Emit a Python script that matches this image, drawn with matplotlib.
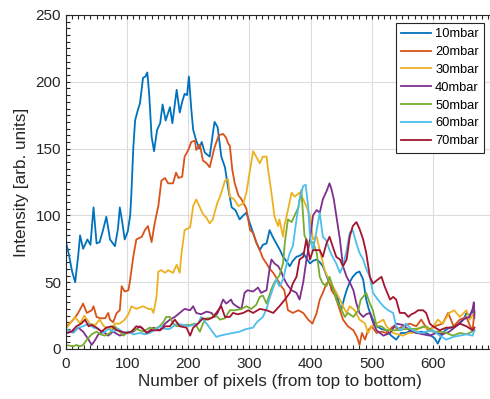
import matplotlib
matplotlib.use("Agg")
import matplotlib.pyplot as plt
from matplotlib.ticker import MultipleLocator

plt.rcParams["font.family"] = ["Liberation Sans", "DejaVu Sans"]

# (pixel index, intensity)
s10 = [(0, 80), (5, 70), (10, 58), (15, 50), (20, 70), (23, 85), (28, 75), (35, 82), (40, 78), (45, 106),
       (50, 79), (55, 80), (60, 88), (66, 99), (72, 82), (80, 77), (85, 90), (88, 106), (92, 95), (96, 82),
       (101, 88), (105, 100), (107, 117), (110, 150), (113, 171), (117, 178), (121, 184), (126, 203), (130, 204),
       (133, 207), (136, 191), (140, 159), (144, 148), (149, 164), (154, 169), (158, 183), (163, 171), (170, 181),
       (174, 169), (181, 194), (186, 177), (190, 185), (194, 191), (198, 190), (201, 204), (205, 179), (208, 164),
       (213, 156), (218, 150), (222, 155), (227, 147), (235, 144), (241, 164), (243, 170), (248, 166), (254, 144),
       (260, 136), (265, 121), (271, 106), (277, 104), (284, 97), (290, 100), (295, 102), (300, 95), (306, 87),
       (311, 80), (317, 74), (322, 78), (328, 79), (333, 89), (338, 84), (344, 79), (350, 74), (355, 69), (360, 66),
       (366, 62), (371, 66), (377, 69), (383, 70), (388, 72), (393, 68), (399, 64), (404, 66), (410, 67), (415, 65),
       (420, 62), (426, 55), (431, 49), (436, 45), (442, 42), (446, 35), (450, 29), (455, 38), (459, 44), (464, 50),
       (469, 54), (475, 57), (480, 58), (486, 52), (491, 37), (495, 30), (500, 24), (504, 20), (508, 17), (516, 15),
       (524, 14), (532, 10), (540, 7), (548, 12), (556, 12), (565, 14), (573, 12), (581, 13), (589, 12), (597, 10),
       (603, 8), (608, 4), (614, 10), (620, 14), (628, 16), (636, 17), (644, 19), (650, 22), (655, 27), (660, 25),
       (665, 29), (668, 23)]

s20 = [(0, 17), (6, 19), (12, 22), (20, 27), (28, 34), (34, 27), (42, 29), (45, 32), (50, 24), (56, 23), (64, 23),
       (69, 27), (72, 22), (77, 20), (83, 27), (88, 29), (91, 47), (96, 43), (102, 44), (104, 49), (110, 69),
       (115, 82), (124, 84), (129, 89), (134, 92), (140, 80), (145, 94), (151, 107), (156, 126), (162, 128),
       (167, 124), (175, 124), (180, 132), (184, 128), (190, 129), (194, 144), (200, 149), (205, 155), (211, 156),
       (213, 149), (219, 153), (224, 141), (230, 139), (235, 136), (243, 151), (250, 160), (257, 161), (262, 158),
       (265, 154), (268, 152), (272, 134), (276, 124), (282, 115), (287, 112), (295, 105), (301, 89), (306, 87),
       (311, 80), (317, 74), (322, 68), (328, 64), (333, 60), (339, 57), (347, 51), (352, 47), (357, 44), (363, 29),
       (371, 27), (380, 29), (388, 27), (396, 22), (403, 19), (410, 27), (415, 37), (420, 42), (426, 49), (431, 51),
       (434, 44), (440, 40), (448, 29), (453, 22), (461, 17), (470, 14), (476, 9), (480, 3), (484, 12), (489, 7),
       (494, 14), (500, 17), (508, 12), (516, 13), (524, 12), (535, 17), (543, 15), (551, 17), (562, 19), (573, 17),
       (581, 22), (592, 14), (603, 17), (616, 19), (625, 27), (634, 17), (644, 22), (655, 24), (660, 18), (665, 14),
       (668, 28)]

s30 = [(0, 15), (8, 20), (15, 24), (23, 19), (30, 25), (39, 19), (48, 18), (55, 22), (62, 17), (70, 15), (75, 16),
       (80, 19), (88, 19), (96, 22), (102, 26), (107, 32), (115, 30), (126, 32), (135, 30), (140, 30), (143, 27),
       (148, 39), (151, 58), (156, 59), (162, 57), (167, 59), (175, 57), (181, 63), (186, 57), (189, 72), (194, 89),
       (203, 91), (208, 107), (213, 112), (218, 107), (224, 101), (230, 98), (235, 94), (240, 97), (243, 102),
       (248, 110), (252, 114), (256, 120), (260, 126), (265, 127), (268, 114), (275, 112), (282, 107), (290, 109),
       (295, 117), (301, 134), (306, 148), (311, 144), (317, 139), (322, 144), (328, 144), (330, 136), (336, 117),
       (341, 99), (347, 92), (349, 97), (355, 84), (357, 92), (363, 104), (369, 117), (374, 114), (382, 117),
       (388, 112), (391, 109), (399, 100), (404, 82), (410, 84), (415, 74), (423, 59), (431, 51), (440, 44),
       (448, 37), (453, 32), (459, 27), (464, 32), (472, 29), (480, 22), (489, 19), (494, 12), (500, 17), (508, 19),
       (519, 22), (524, 17), (535, 12), (551, 10), (560, 12), (567, 12), (576, 15), (584, 17), (597, 14), (608, 22),
       (616, 19), (627, 27), (635, 29), (644, 24), (655, 29), (660, 22), (668, 27)]

s40 = [(0, 12), (12, 13), (20, 16), (28, 13), (37, 7), (42, 3), (48, 7), (53, 11), (61, 13), (69, 10), (77, 13),
       (88, 10), (99, 12), (110, 13), (121, 17), (132, 12), (143, 16), (153, 14), (162, 19), (170, 22), (178, 24),
       (186, 27), (194, 30), (203, 29), (208, 32), (213, 27), (221, 26), (230, 28), (238, 27), (243, 24), (248, 27),
       (257, 37), (262, 34), (270, 37), (273, 34), (279, 32), (287, 30), (292, 42), (297, 44), (306, 43), (314, 46),
       (319, 42), (328, 44), (333, 60), (336, 67), (341, 64), (347, 62), (352, 58), (355, 54), (362, 48), (369, 44),
       (377, 42), (382, 37), (388, 50), (393, 66), (399, 82), (404, 100), (410, 104), (415, 102), (420, 112),
       (426, 118), (431, 124), (434, 120), (438, 112), (442, 100), (448, 82), (453, 62), (459, 54), (464, 50),
       (470, 44), (475, 34), (480, 27), (486, 24), (491, 26), (497, 27), (502, 20), (508, 14), (519, 10), (530, 12),
       (540, 19), (551, 18), (562, 14), (573, 12), (584, 11), (595, 10), (605, 12), (616, 11), (627, 13), (638, 17),
       (649, 22), (660, 24), (665, 30), (667, 35), (668, 25)]

s50 = [(0, 3), (12, 2), (17, 3), (23, 2), (28, 3), (34, 7), (42, 11), (50, 13), (56, 11), (64, 10), (72, 12),
       (80, 17), (88, 13), (94, 10), (99, 12), (107, 13), (115, 15), (126, 13), (137, 16), (145, 15), (153, 17),
       (159, 20), (164, 24), (170, 24), (175, 19), (181, 17), (194, 18), (203, 18), (211, 19), (219, 13), (224, 19),
       (230, 23), (238, 23), (243, 26), (252, 22), (260, 23), (268, 29), (276, 29), (287, 30), (295, 32), (303, 30),
       (311, 33), (317, 39), (322, 40), (328, 34), (336, 45), (341, 50), (349, 55), (355, 64), (358, 80), (363, 97),
       (369, 95), (374, 100), (380, 106), (385, 119), (387, 105), (390, 85), (396, 79), (404, 80), (410, 72),
       (415, 54), (420, 49), (426, 47), (431, 54), (436, 47), (442, 37), (448, 32), (456, 24), (461, 27), (470, 24),
       (478, 29), (482, 37), (486, 39), (491, 42), (497, 34), (502, 29), (508, 17), (516, 17), (524, 14), (540, 14),
       (556, 15), (573, 15), (589, 17), (600, 13), (611, 13), (622, 12), (633, 10), (644, 12), (655, 11), (668, 14)]

s60 = [(0, 15), (12, 12), (20, 16), (28, 17), (37, 19), (45, 16), (53, 15), (61, 12), (69, 15), (77, 13), (86, 15),
       (94, 12), (102, 13), (110, 11), (121, 12), (129, 11), (137, 12), (148, 15), (154, 17), (162, 15), (170, 15),
       (181, 19), (192, 18), (200, 17), (208, 18), (216, 19), (221, 24), (230, 19), (241, 12), (246, 9), (252, 10),
       (262, 11), (273, 12), (284, 13), (295, 15), (306, 16), (312, 20), (317, 22), (322, 24), (328, 30), (333, 38),
       (339, 46), (344, 52), (349, 47), (355, 52), (360, 62), (366, 72), (371, 77), (377, 97), (382, 112), (388, 122),
       (392, 123), (396, 107), (399, 84), (404, 74), (410, 89), (415, 102), (420, 84), (426, 81), (431, 74),
       (436, 69), (442, 64), (448, 57), (453, 62), (459, 74), (464, 87), (469, 89), (475, 79), (480, 72), (486, 67),
       (491, 60), (497, 54), (502, 42), (510, 37), (519, 32), (527, 29), (535, 27), (540, 17), (548, 14), (556, 19),
       (567, 14), (578, 12), (589, 13), (600, 14), (611, 10), (622, 7), (633, 9), (644, 10), (655, 11), (665, 10),
       (668, 14)]

s70 = [(0, 12), (9, 13), (17, 17), (25, 19), (31, 22), (37, 17), (42, 18), (50, 16), (58, 13), (66, 16), (75, 17),
       (83, 14), (91, 13), (99, 12), (107, 13), (115, 17), (124, 16), (132, 12), (140, 14), (148, 14), (154, 14),
       (162, 17), (170, 17), (178, 22), (186, 17), (197, 16), (203, 10), (208, 16), (216, 19), (224, 23), (232, 22),
       (241, 24), (249, 29), (254, 32), (260, 24), (268, 24), (273, 27), (281, 26), (290, 27), (298, 29), (306, 27),
       (317, 30), (328, 29), (339, 27), (349, 32), (358, 37), (366, 42), (371, 49), (377, 54), (382, 67), (388, 69),
       (393, 82), (399, 67), (404, 74), (410, 74), (415, 74), (420, 69), (426, 79), (431, 84), (436, 77), (442, 69),
       (448, 67), (453, 62), (459, 67), (464, 84), (469, 92), (475, 95), (480, 90), (486, 82), (491, 72), (497, 54),
       (502, 49), (510, 52), (516, 54), (521, 47), (530, 37), (535, 39), (540, 37), (546, 27), (554, 27), (560, 24),
       (565, 26), (570, 27), (576, 29), (584, 29), (589, 27), (595, 19), (600, 17), (611, 14), (622, 16), (633, 16),
       (644, 19), (655, 17), (665, 14), (668, 16)]

series = [s10, s20, s30, s40, s50, s60, s70]
labels = ["10mbar", "20mbar", "30mbar", "40mbar", "50mbar", "60mbar", "70mbar"]
colors = ["#0072BD", "#D95319", "#EDB120", "#7E2F8E", "#77AC30", "#4DBEEE", "#A2142F"]

fig = plt.figure(figsize=(4.9, 3.99), dpi=100)
ax = fig.add_axes([66 / 490, 50 / 399, 428 / 490, 334 / 399])

for s, lab, c in zip(series, labels, colors):
    xs, ys = zip(*s)
    ax.plot(xs, ys, color=c, lw=1.3, label=lab)

ax.set_xlim(0, 700)
ax.set_ylim(0, 250)
ax.set_xticks(range(0, 700, 100))
ax.set_yticks(range(0, 251, 50))
ax.xaxis.set_minor_locator(MultipleLocator(10))
ax.yaxis.set_minor_locator(MultipleLocator(5))
ax.tick_params(which="both", direction="in", top=True, right=True, length=3,
               width=0.8, colors="#262626", labelsize=11)
ax.tick_params(axis="x", pad=6)
ax.grid(True, which="major", color="#dcdcdc", lw=0.8)
ax.set_axisbelow(True)
for sp in ax.spines.values():
    sp.set_color("#262626")
    sp.set_linewidth(0.8)

ax.set_xlabel("Number of pixels (from top to bottom)", fontsize=12.3, color="#262626", labelpad=2)
ax.set_ylabel("Intensity [arb. units]", fontsize=12.3, color="#262626", labelpad=5)

leg = ax.legend(loc="upper right", bbox_to_anchor=(484 / 490, 1 - 23 / 399), bbox_transform=fig.transFigure,
                fontsize=9.3, fancybox=False, framealpha=1, edgecolor="#262626", handlelength=2.3,
                labelspacing=0.45, borderpad=0.4, handletextpad=0.35, borderaxespad=0)
leg.get_frame().set_linewidth(0.8)

fig.savefig("out.png", dpi=100)
